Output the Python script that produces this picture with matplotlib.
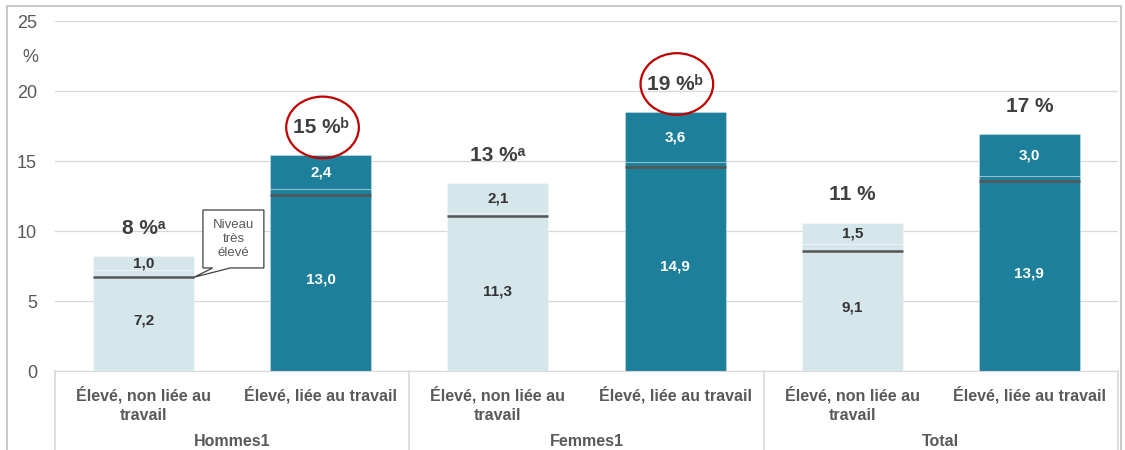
import numpy as np
import matplotlib
matplotlib.use("Agg")
import matplotlib.pyplot as plt
from matplotlib.patches import Ellipse, Rectangle, Polygon

plt.rcParams['font.family'] = ['Liberation Sans', 'DejaVu Sans']

# data
categories = ["Élevé, non liée au\ntravail", "Élevé, liée au travail"] * 3
groups = ["Hommes1", "Femmes1", "Total"]
base_vals = [7.2, 13.0, 11.3, 14.9, 9.1, 13.9]
top_vals = [1.0, 2.4, 2.1, 3.6, 1.5, 3.0]
niveau_line = [6.7, 12.6, 11.1, 14.6, 8.6, 13.6]
totals = ["8 %ᵃ", "15 %ᵇ", "13 %ᵃ", "19 %ᵇ", "11 %", "17 %"]
circled = [1, 3]

light = "#d6e7ec"
dark = "#1d7f99"
colors = [light, dark] * 3
txt_col = ["#333333", "white"] * 3
grey = "#595959"

fig = plt.figure(figsize=(11.25, 4.5), dpi=100)
ax = fig.add_axes([55/1125, 79/450, 1063/1125, 350/450])

x = np.arange(len(base_vals))
w = 0.57
ax.bar(x, base_vals, width=w, color=colors, edgecolor=(1, 1, 1, 0.3), linewidth=0.8, zorder=2)
ax.bar(x, top_vals, bottom=base_vals, width=w, color=colors, edgecolor=(1, 1, 1, 0.3), linewidth=0.8, zorder=2)
ax.hlines(niveau_line, x - w/2, x + w/2, color="#555555", linewidth=1.8, zorder=3)

for i in range(len(x)):
    ax.text(x[i], base_vals[i]/2, f"{base_vals[i]:.1f}".replace(".", ","), ha="center", va="center",
            fontsize=11, fontweight="bold", color=txt_col[i], zorder=4)
    ax.text(x[i], base_vals[i] + top_vals[i]/2, f"{top_vals[i]:.1f}".replace(".", ","), ha="center", va="center",
            fontsize=11, fontweight="bold", color=txt_col[i], zorder=4)
    tot = base_vals[i] + top_vals[i]
    ax.text(x[i], tot + 2.0, totals[i], ha="center", va="center", fontsize=15,
            fontweight="bold", color="#404040", zorder=4)
    if i in circled:
        ax.add_patch(Ellipse((x[i] + 0.01, tot + 2.0), 0.41, 4.4, fill=False,
                             edgecolor="#c00000", linewidth=1.6, zorder=5))

# callout "Niveau très élevé"
tip = (x[0] + w/2, niveau_line[0])
bx0, bx1, by0, by1 = 0.335, 0.679, 7.36, 11.5
poly = [(bx0, by1), (bx1, by1), (bx1, by0), (0.49, by0), tip, (0.39, by0), (bx0, by0)]
ax.add_patch(Polygon(poly, closed=True, facecolor="white", edgecolor="#404040", linewidth=0.9, zorder=5))
ax.text((bx0 + bx1)/2, (by0 + by1)/2, "Niveau\ntrès\nélevé", ha="center", va="center",
        fontsize=9.5, color=grey, linespacing=1.2, zorder=6)

ax.set_xlim(-0.5, 5.5)
ax.set_ylim(0, 25)
ax.set_yticks([0, 5, 10, 15, 20, 25])
ax.yaxis.grid(True, color="#d9d9d9", linewidth=0.9, zorder=0)
ax.set_axisbelow(True)
ax.tick_params(axis="y", length=0, labelsize=13, labelcolor=grey, pad=13)
ax.set_xticks(x)
ax.set_xticklabels(categories, fontsize=11.5, fontweight="bold", color=grey, linespacing=1.35)
ax.tick_params(axis="x", length=0, pad=11)
for s in ["left", "right", "top"]:
    ax.spines[s].set_visible(False)
ax.spines["bottom"].set_color("#d9d9d9")
ax.text(-0.0235, 0.895, "%", transform=ax.transAxes, ha="center", va="center", fontsize=13, color=grey)

# group labels and separators
for g, name in enumerate(groups):
    ax.text(2*g + 0.5, -0.2, name, transform=ax.get_xaxis_transform(), ha="center", va="center",
            fontsize=11.5, fontweight="bold", color=grey)
for b in [-0.5, 1.5, 3.5, 5.5]:
    ax.plot([b, b], [0, -0.3], transform=ax.get_xaxis_transform(), color="#d9d9d9",
            linewidth=1.2, clip_on=False)

# outer frame
fig.patches.append(Rectangle((7/1125, -0.05), 1114/1125, 1.05 - 6/450, transform=fig.transFigure,
                             fill=False, edgecolor="#bfbfbf", linewidth=1.2))

fig.savefig("out.png", dpi=100)
